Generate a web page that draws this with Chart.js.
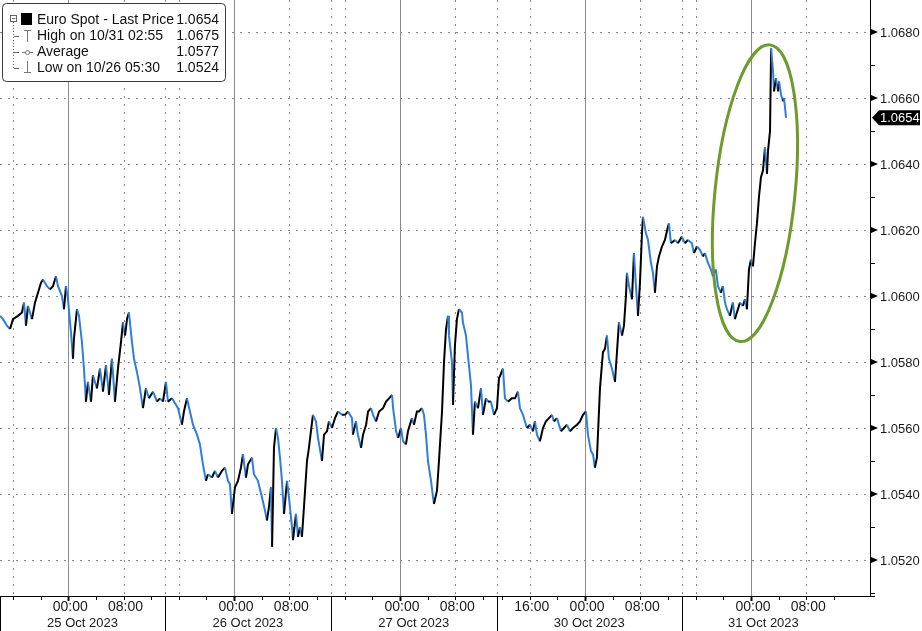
<!DOCTYPE html>
<html>
<head>
<meta charset="utf-8">
<script src="https://cdn.jsdelivr.net/npm/chart.js@4.4.0/dist/chart.umd.min.js"></script>
<style>
  html, body { margin: 0; padding: 0; background: #ffffff; }
  #wrap { width: 922px; height: 631px; position: relative; }
  canvas { display: block; }
</style>
</head>
<body>
<div id="wrap"><canvas id="c" width="922" height="631"></canvas></div>
<script>
// ---- DATA (time = hours on the compressed trading timeline, 25 Oct 00:00 = 0) ----
const hours = [
  -9.88,-9.45,-8.87,-8.43,-8.00,-7.28,-6.70,-6.41,-6.12,-5.83,-5.25,-4.82,-4.38,-3.95,-3.66,-3.08,-2.65,-2.21,-1.78,-1.49,-0.91,-0.62,-0.33,-0.04,
  0.39,0.68,0.82,1.26,1.55,1.98,2.27,2.56,2.85,3.29,3.57,4.15,4.59,5.02,5.46,5.89,6.32,6.76,7.19,7.63,7.92,8.21,8.50,8.78,9.22,9.51,9.94,10.38,10.81,11.24,11.68,12.26,12.84,13.27,13.71,14.14,14.43,15.01,15.88,16.45,16.74,17.18,17.61,18.05,18.63,19.06,19.49,19.93,20.22,20.80,21.23,21.66,22.24,22.68,23.11,23.40,23.69,
  24.12,24.56,24.99,25.28,25.72,26.01,26.59,26.87,27.45,28.03,28.47,28.76,29.04,29.33,29.50,29.77,30.06,30.35,30.64,30.93,31.22,31.66,31.94,32.38,32.52,32.96,33.25,33.53,33.82,34.11,34.55,34.83,35.41,35.85,36.14,36.72,37.01,37.44,37.73,38.16,38.60,39.03,39.61,40.04,40.48,41.06,41.20,41.64,41.91,42.37,42.66,43.10,43.39,43.82,44.11,44.54,44.98,45.56,45.99,46.43,46.87,47.01,47.45,47.74,
  48.15,48.44,48.87,49.16,49.74,50.03,50.46,50.75,51.19,51.48,51.77,52.06,52.50,52.79,52.93,53.36,53.65,54.09,54.38,54.67,54.96,55.10,55.53,55.68,55.96,56.25,56.54,56.98,57.12,57.56,57.84,58.28,58.57,58.86,59.29,59.73,60.02,60.45,60.74,61.17,61.61,62.04,
  62.33,62.91,63.20,63.64,64.21,64.65,65.08,65.37,65.81,66.09,66.38,66.82,67.25,67.54,67.83,68.26,68.70,69.13,69.57,70.00,70.30,70.73,71.31,71.74,72.17,72.61,73.04,73.62,74.06,74.49,74.92,75.21,75.65,75.94,76.22,76.51,76.66,76.95,77.38,77.67,77.96,78.25,78.68,79.12,79.41,79.70,80.14,80.42,80.71,80.86,81.15,81.58,81.87,82.16,82.45,82.74,83.03,83.17,83.61,83.90,84.33,84.62,84.91,85.20,85.49,85.92,86.35,86.79,86.93,87.22,87.80,88.23,88.81,89.25,89.68,90.26,90.55,90.98,91.42,91.85,92.14,92.58,93.01,93.30,93.73,94.02,94.46,94.75,95.04,95.33,95.76,96.19,96.48,96.77,97.21,97.64,97.93,98.22,98.51,
  98.80,99.09,99.38,99.67,99.96,100.25,100.54,100.83,101.12,101.27,101.56,101.72,102.00,102.14,102.43,102.72,102.87,103.16,103.44,103.59,103.88
];
const prices = [
  1.0594,1.0593,1.0591,1.0590,1.0593,1.0594,1.0595,1.0598,1.0591,1.0597,1.0593,1.0598,1.0601,1.0604,1.0605,1.0603,1.0602,1.0603,1.0606,1.0603,1.0600,1.0596,1.0603,1.0599,
  1.0589,1.0581,1.0587,1.0596,1.0594,1.0586,1.0578,1.0568,1.0574,1.0568,1.0576,1.0572,1.0578,1.0571,1.0579,1.0570,1.0581,1.0568,1.0578,1.0586,1.0592,1.0588,1.0593,1.0595,1.0586,1.0581,1.0577,1.0572,1.0566,1.0572,1.0569,1.0571,1.0568,1.0569,1.0568,1.0574,1.0568,1.0569,1.0566,1.0561,1.0565,1.0569,1.0565,1.0561,1.0558,1.0555,1.0549,1.0544,1.0546,1.0545,1.0547,1.0545,1.0547,1.0548,1.0544,1.0543,1.0534,
  1.0542,1.0544,1.0548,1.0552,1.0545,1.0549,1.0551,1.0546,1.0544,1.0539,1.0535,1.0532,1.0536,1.0542,1.0524,1.0554,1.0560,1.0557,1.0551,1.0544,1.0534,1.0544,1.0539,1.0530,1.0526,1.0534,1.0527,1.0530,1.0527,1.0536,1.0550,1.0554,1.0564,1.0562,1.0557,1.0550,1.0558,1.0559,1.0562,1.0560,1.0563,1.0565,1.0564,1.0564,1.0565,1.0563,1.0558,1.0562,1.0558,1.0554,1.0558,1.0561,1.0565,1.0566,1.0564,1.0562,1.0565,1.0566,1.0568,1.0569,1.0570,1.0566,1.0559,1.0557,
  1.0560,1.0556,1.0555,1.0559,1.0563,1.0561,1.0565,1.0565,1.0566,1.0564,1.0558,1.0550,1.0544,1.0539,1.0537,1.0541,1.0550,1.0565,1.0580,1.0590,1.0594,1.0588,1.0580,1.0567,1.0585,1.0593,1.0596,1.0595,1.0592,1.0588,1.0582,1.0573,1.0558,1.0568,1.0566,1.0572,1.0564,1.0569,1.0568,1.0568,1.0564,1.0566,
  1.0575,1.0578,1.0569,1.0568,1.0569,1.0569,1.0571,1.0566,1.0564,1.0562,1.0560,1.0561,1.0559,1.0562,1.0558,1.0556,1.0560,1.0562,1.0563,1.0564,1.0562,1.0563,1.0559,1.0560,1.0561,1.0559,1.0560,1.0561,1.0562,1.0564,1.0565,1.0558,1.0553,1.0552,1.0548,1.0551,1.0558,1.0572,1.0583,1.0584,1.0588,1.0581,1.0578,1.0574,1.0583,1.0592,1.0588,1.0591,1.0600,1.0607,1.0603,1.0599,1.0613,1.0603,1.0594,1.0604,1.0619,1.0624,1.0619,1.0617,1.0610,1.0607,1.0601,1.0609,1.0612,1.0615,1.0617,1.0621,1.0622,1.0616,1.0617,1.0616,1.0618,1.0616,1.0617,1.0616,1.0613,1.0615,1.0614,1.0612,1.0613,1.0610,1.0608,1.0606,1.0608,1.0603,1.0601,1.0603,1.0598,1.0596,1.0594,1.0598,1.0593,1.0595,1.0598,1.0597,1.0599,1.0596,1.0608,
  1.0611,1.0609,1.0616,1.0622,1.0630,1.0636,1.0638,1.0645,1.0637,1.0644,1.0650,1.0675,1.0668,1.0662,1.0666,1.0662,1.0665,1.0661,1.0659,1.0660,1.0654
];

// y axis ticks
const yMajorTicks = [1.0520,1.0540,1.0560,1.0580,1.0600,1.0620,1.0640,1.0660,1.0680];
const yMinorTicks = [1.0510,1.0530,1.0550,1.0570,1.0590,1.0610,1.0630,1.0650,1.0670];

// x axis ticks (hours on the compressed timeline)
const xTickHours = [-8,-4,0,4,8,12,16,20,24,28,32,36,40,44,48,52,56,60,62.8,66.8,70.8,74.8,78.8,82.8,86.8,90.8,94.8,98.8,102.8,106.8,110.8];
const midnightHours = [0,24,48,74.8,98.8];
const dottedGridHours = [-8,8,14,16,32,38,40,56,62,66.8,82.8,88.8,90.8,106.8];
const timeLabelHours = [0,8,24,32,48,56,66.8,74.8,82.8,98.8,106.8];
const timeLabelTexts = ['00:00','08:00','00:00','08:00','00:00','08:00','16:00','00:00','08:00','00:00','08:00'];
const sessionBounds = [-9.88,14,38,62,88.8,112.4];
const dateLabels = ['25 Oct 2023','26 Oct 2023','27 Oct 2023','30 Oct 2023','31 Oct 2023'];

// legend
const legendLabels = ['Euro Spot - Last Price','High on 10/31 02:55','Average','Low on 10/26 05:30'];
const legendValues = ['1.0654','1.0675','1.0577','1.0524'];
const lastPrice = prices[prices.length - 1];

// annotation (ellipse) anchored in data space
const ellipseTop = { h: 101.55, p: 1.06761 };
const ellipseBottom = { h: 97.21, p: 1.05862 };

const X_MIN = -9.88, X_MAX = 116.03;
const Y_MIN = 1.05091, Y_MAX = 1.06897;
const BLUE = '#2f7fd6';
const FONT = '"Liberation Sans", Arial, sans-serif';

const bbgPlugin = {
  id: 'bbg',
  beforeDatasetsDraw(chart) {
    const { ctx, chartArea: a, scales: { x, y } } = chart;
    ctx.save();
    ctx.lineWidth = 1;
    ctx.strokeStyle = '#8a8a8a';
    ctx.setLineDash([2, 6]);
    yMajorTicks.forEach(v => {
      const py = Math.round(y.getPixelForValue(v)) + 0.5;
      ctx.beginPath(); ctx.moveTo(a.left, py); ctx.lineTo(a.right, py); ctx.stroke();
    });
    dottedGridHours.forEach(h => {
      const px = Math.round(x.getPixelForValue(h)) + 0.5;
      ctx.beginPath(); ctx.moveTo(px, a.top); ctx.lineTo(px, a.bottom); ctx.stroke();
    });
    ctx.setLineDash([]);
    ctx.strokeStyle = '#8c8c8c';
    midnightHours.forEach(h => {
      const px = Math.round(x.getPixelForValue(h)) + 0.5;
      ctx.beginPath(); ctx.moveTo(px, a.top); ctx.lineTo(px, a.bottom); ctx.stroke();
    });
    ctx.restore();
  },
  afterDatasetsDraw(chart) {
    const { ctx, chartArea: a, scales: { x, y } } = chart;
    ctx.save();

    // ellipse annotation
    const tx = x.getPixelForValue(ellipseTop.h), ty = y.getPixelForValue(ellipseTop.p);
    const bx = x.getPixelForValue(ellipseBottom.h), by = y.getPixelForValue(ellipseBottom.p);
    const cx = (tx + bx) / 2, cy = (ty + by) / 2;
    const ra = Math.hypot(tx - bx, ty - by) / 2;
    const ang = Math.atan2(ty - by, tx - bx);
    ctx.beginPath();
    ctx.ellipse(cx, cy, ra, 40, ang, 0, Math.PI * 2);
    ctx.strokeStyle = '#6e9a2e';
    ctx.lineWidth = 3;
    ctx.stroke();

    // axes lines
    ctx.lineWidth = 1;
    ctx.strokeStyle = '#000';
    ctx.beginPath();
    ctx.moveTo(a.right + 0.5, 0); ctx.lineTo(a.right + 0.5, a.bottom + 1);
    ctx.moveTo(0, a.bottom + 0.5); ctx.lineTo(a.right + 5, a.bottom + 0.5);
    ctx.stroke();

    // y ticks
    ctx.fillStyle = '#000';
    yMajorTicks.forEach(v => {
      const py = y.getPixelForValue(v);
      ctx.beginPath();
      ctx.moveTo(a.right + 1, py - 3); ctx.lineTo(a.right + 8, py); ctx.lineTo(a.right + 1, py + 3);
      ctx.closePath(); ctx.fill();
    });
    ctx.beginPath();
    yMinorTicks.forEach(v => {
      const py = Math.round(y.getPixelForValue(v)) + 0.5;
      ctx.moveTo(a.right + 1, py); ctx.lineTo(a.right + 5, py);
    });
    ctx.stroke();

    ctx.font = '13px ' + FONT;
    ctx.textAlign = 'left';
    ctx.textBaseline = 'middle';
    ctx.fillStyle = '#1a1a1a';
    yMajorTicks.forEach(v => {
      ctx.fillText(v.toFixed(4), a.right + 10, y.getPixelForValue(v) + 1);
    });

    // last price tag
    const ly = y.getPixelForValue(lastPrice);
    ctx.fillStyle = '#000';
    ctx.beginPath();
    ctx.moveTo(a.right + 2, ly);
    ctx.lineTo(a.right + 9, ly - 7.5);
    ctx.lineTo(920, ly - 7.5);
    ctx.lineTo(920, ly + 7.5);
    ctx.lineTo(a.right + 9, ly + 7.5);
    ctx.closePath(); ctx.fill();
    ctx.fillStyle = '#fff';
    ctx.fillText(lastPrice.toFixed(4), a.right + 10, ly + 1);

    // x ticks
    ctx.strokeStyle = '#000';
    xTickHours.forEach(h => {
      const major = midnightHours.includes(h);
      const px = Math.round(x.getPixelForValue(h)) + 0.5;
      ctx.lineWidth = major ? 2 : 1;
      ctx.beginPath(); ctx.moveTo(px, a.bottom); ctx.lineTo(px, a.bottom + (major ? 5 : 4)); ctx.stroke();
    });
    ctx.lineWidth = 1;
    sessionBounds.slice(0, -1).forEach(h => {
      const px = Math.max(0, Math.round(x.getPixelForValue(h))) + 0.5;
      ctx.beginPath(); ctx.moveTo(px, a.bottom); ctx.lineTo(px, 631); ctx.stroke();
    });

    ctx.fillStyle = '#1a1a1a';
    ctx.textAlign = 'center';
    ctx.font = '14px ' + FONT;
    timeLabelHours.forEach((h, i) => {
      ctx.fillText(timeLabelTexts[i], x.getPixelForValue(h) + 2, 607);
    });
    ctx.font = '13px ' + FONT;
    dateLabels.forEach((t, i) => {
      const p0 = Math.max(0, x.getPixelForValue(sessionBounds[i]));
      const p1 = x.getPixelForValue(sessionBounds[i + 1]);
      ctx.fillText(t, (p0 + p1) / 2, 623);
    });

    // legend box
    ctx.fillStyle = '#fff';
    ctx.strokeStyle = '#3a3a3a';
    ctx.beginPath();
    ctx.roundRect(2.5, 3.5, 223, 78, 4);
    ctx.fill(); ctx.stroke();

    // tree structure
    ctx.strokeStyle = '#666';
    ctx.strokeRect(10.5, 15.5, 6, 6);
    ctx.beginPath(); ctx.moveTo(12, 18.5); ctx.lineTo(15.5, 18.5); ctx.stroke();
    ctx.setLineDash([1, 2]);
    ctx.beginPath(); ctx.moveTo(13.5, 22); ctx.lineTo(13.5, 68); ctx.stroke();
    ctx.setLineDash([]);
    [36, 52, 68].forEach(ry => {
      ctx.beginPath(); ctx.moveTo(14, ry + 0.5); ctx.lineTo(19, ry + 0.5); ctx.stroke();
    });
    ctx.fillStyle = '#000';
    ctx.fillRect(21, 13, 11, 12);
    ctx.strokeStyle = '#777';
    ctx.beginPath();
    ctx.moveTo(24, 30.5); ctx.lineTo(31, 30.5);
    ctx.moveTo(27.5, 30); ctx.lineTo(27.5, 42);
    ctx.moveTo(22, 52.5); ctx.lineTo(33, 52.5);
    ctx.moveTo(27.5, 61); ctx.lineTo(27.5, 73);
    ctx.moveTo(24, 72.5); ctx.lineTo(31, 72.5);
    ctx.stroke();
    ctx.beginPath(); ctx.arc(27.5, 52.5, 2, 0, Math.PI * 2);
    ctx.fillStyle = '#fff'; ctx.fill(); ctx.stroke();

    ctx.font = '14px ' + FONT;
    ctx.fillStyle = '#111';
    const rows = [20.5, 36, 52.5, 68.5];
    legendLabels.forEach((t, i) => {
      ctx.textAlign = 'left';
      ctx.fillText(t, 37, rows[i]);
      ctx.textAlign = 'right';
      ctx.fillText(legendValues[i], 219, rows[i]);
    });
    ctx.restore();
  }
};

new Chart(document.getElementById('c'), {
  type: 'line',
  data: {
    datasets: [{
      data: hours.map((h, i) => ({ x: h, y: prices[i] })),
      borderColor: '#000',
      borderWidth: 2,
      pointRadius: 0,
      tension: 0,
      segment: {
        borderColor: c => (c.p1.parsed.y >= c.p0.parsed.y ? '#000' : BLUE)
      }
    }]
  },
  options: {
    responsive: false,
    animation: false,
    devicePixelRatio: 1,
    layout: { padding: { left: 0, top: 0, right: 52, bottom: 35 } },
    plugins: { legend: { display: false }, tooltip: { enabled: false } },
    scales: {
      x: { type: 'linear', display: false, min: X_MIN, max: X_MAX },
      y: { type: 'linear', display: false, min: Y_MIN, max: Y_MAX }
    }
  },
  plugins: [bbgPlugin]
});
</script>
</body>
</html>
